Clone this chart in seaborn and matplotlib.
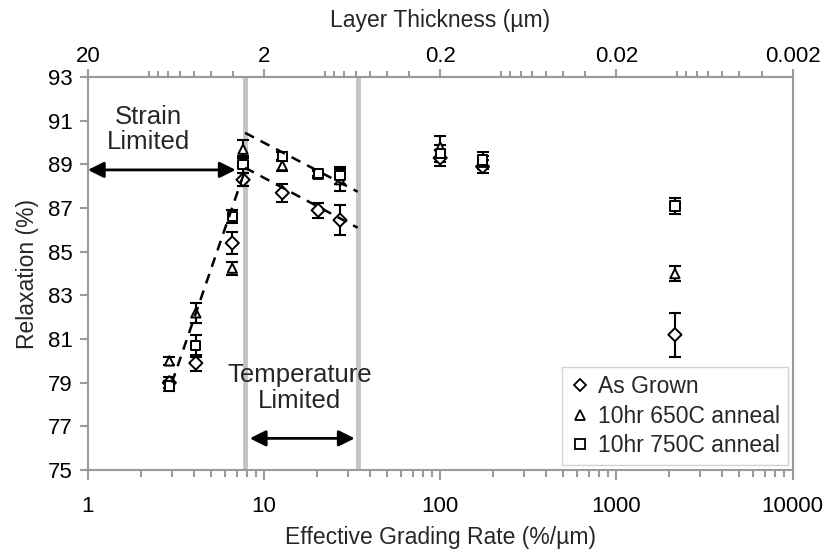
import numpy as np
import pandas as pd
import matplotlib
matplotlib.use("Agg")
import matplotlib.pyplot as plt
from matplotlib.lines import Line2D
from matplotlib.ticker import LogLocator, FixedLocator, NullFormatter, FixedFormatter
import seaborn as sns

# Effective grading rate (%/um) for each sample
grading_rate = [2.9, 4.1, 6.6, 7.6, 12.7, 20.3, 27.0, 100.0, 174.0, 2150.0]

# Relaxation (%) and error for each condition
as_grown = [79.0, 79.9, 85.4, 88.3, 87.7, 86.9, 86.45, 89.3, 88.9, 81.2]
as_grown_err = [0.25, 0.35, 0.5, 0.3, 0.4, 0.35, 0.7, 0.35, 0.3, 1.0]
anneal_650 = [80.0, 82.2, 84.25, 89.7, 88.95, 88.55, 88.3, 89.8, 89.1, 84.0]
anneal_650_err = [0.2, 0.45, 0.3, 0.4, 0.25, 0.15, 0.5, 0.5, 0.3, 0.35]
anneal_750 = [78.85, 80.7, 86.6, 89.0, 89.35, 88.6, 88.5, 89.5, 89.2, 87.1]
anneal_750_err = [0.25, 0.5, 0.3, 0.4, 0.2, 0.15, 0.4, 0.4, 0.35, 0.35]

series_names = ["As Grown", "10hr 650C anneal", "10hr 750C anneal"]
series_markers = ["D", "^", "s"]

# Trend guides (rate, relaxation) end points
strain_trend_x = [3.0, 7.7]
strain_trend_y = [79.0, 88.6]
upper_trend_x = [7.8, 34.0]
upper_trend_y = [90.45, 87.75]
lower_trend_x = [7.8, 34.0]
lower_trend_y = [88.85, 86.1]

# Regime boundaries (rate)
regime_bounds = [7.8, 34.0]

# Axis ticks
y_ticks = [75, 77, 79, 81, 83, 85, 87, 89, 91, 93]
x_ticks = [1, 10, 100, 1000, 10000]
top_ticks = [20, 2, 0.2, 0.02, 0.002]
top_tick_labels = ["20", "2", "0.2", "0.02", "0.002"]

sns.set_theme(style="white")
plt.rcParams["font.family"] = ["Liberation Sans", "DejaVu Sans"]

df = pd.DataFrame({
    "rate": grading_rate * 3,
    "relax": as_grown + anneal_650 + anneal_750,
    "err": as_grown_err + anneal_650_err + anneal_750_err,
    "series": sum([[n] * len(grading_rate) for n in series_names], []),
})

fig = plt.figure(figsize=(8.29, 5.51), dpi=100)
ax = fig.add_axes([0.106, 0.147, 0.850, 0.713])
ax.set_xscale("log")
ax.set_xlim(1, 10000)
ax.set_ylim(75, 93)

spine_color = "#9a9a9a"
for s in ax.spines.values():
    s.set_color(spine_color)
    s.set_linewidth(1.5)

# regime boundary lines
for b in regime_bounds:
    ax.axvline(b, color="#c4c4c4", lw=3.5, zorder=1)

# error bars
for name in series_names:
    sub = df[df["series"] == name]
    ax.errorbar(sub["rate"], sub["relax"], yerr=sub["err"], fmt="none",
                ecolor="black", elinewidth=1.5, capsize=4, capthick=1.5, zorder=3)

# markers
sns.scatterplot(data=df, x="rate", y="relax", style="series",
                markers=dict(zip(series_names, series_markers)),
                style_order=series_names, color="white", edgecolor="black",
                linewidth=1.4, s=45, legend=False, ax=ax, zorder=4)

# trend guides
for xs, ys in [(strain_trend_x, strain_trend_y), (upper_trend_x, upper_trend_y),
               (lower_trend_x, lower_trend_y)]:
    sns.lineplot(x=xs, y=ys, ax=ax, color="black", lw=1.8, linestyle=(0, (4, 3)),
                 zorder=5, estimator=None, sort=False)

# annotations
ax.annotate("", xy=(1.0, 88.75), xytext=(6.9, 88.75),
            arrowprops=dict(arrowstyle="<|-|>", color="black", lw=2,
                            mutation_scale=24, shrinkA=0, shrinkB=0), zorder=6)
ax.text(2.2, 90.6, "Strain\nLimited", ha="center", va="center", fontsize=18.5,
        linespacing=1.1)
ax.annotate("", xy=(8.3, 76.45), xytext=(32.7, 76.45),
            arrowprops=dict(arrowstyle="<|-|>", color="black", lw=2,
                            mutation_scale=24, shrinkA=0, shrinkB=0), zorder=6)
ax.text(16.0, 78.75, "Temperature\nLimited", ha="center", va="center", fontsize=18.5,
        linespacing=1.1)

# axes, ticks
ax.set_yticks(y_ticks)
ax.set_xticks(x_ticks)
ax.set_xticklabels([str(t) for t in x_ticks])
ax.xaxis.set_minor_locator(LogLocator(base=10, subs=np.arange(2, 10)))
ax.xaxis.set_minor_formatter(NullFormatter())
ax.tick_params(axis="both", which="both", direction="out", color=spine_color,
               width=1.5, labelsize=16, labelcolor="black")
ax.tick_params(axis="x", which="major", length=7, bottom=True, pad=12)
ax.tick_params(axis="x", which="minor", length=5, bottom=True)
ax.tick_params(axis="y", which="major", length=6, left=True, pad=5)
ax.set_xlabel("Effective Grading Rate (%/µm)", fontsize=16.5, labelpad=6)
ax.set_ylabel("Relaxation (%)", fontsize=16.5, labelpad=6)

top = ax.secondary_xaxis("top", functions=(lambda x: 20.0 / x, lambda x: 20.0 / x))
top.xaxis.set_major_locator(FixedLocator(top_ticks))
top.xaxis.set_major_formatter(FixedFormatter(top_tick_labels))
top.xaxis.set_minor_locator(LogLocator(base=10, subs=np.arange(2, 10)))
top.xaxis.set_minor_formatter(NullFormatter())
top.tick_params(axis="x", which="both", direction="out", color=spine_color,
                width=1.5, labelsize=16, labelcolor="black")
top.tick_params(axis="x", which="major", length=6, pad=1)
top.tick_params(axis="x", which="minor", length=4)
top.spines["top"].set_color(spine_color)
top.spines["top"].set_linewidth(1.5)
top.set_xlabel("Layer Thickness (µm)", fontsize=16.5, labelpad=14)

# legend
handles = [Line2D([], [], linestyle="none", marker=m, markerfacecolor="white",
                  markeredgecolor="black", markeredgewidth=1.3,
                  markersize=7 if m != "D" else 6)
           for m in series_markers]
leg = ax.legend(handles, series_names, loc="lower right", fontsize=16.5,
                frameon=True, fancybox=False, edgecolor="#c8c8c8",
                handlelength=0.8, handletextpad=0.4, borderpad=0.35,
                labelspacing=0.3, borderaxespad=0.2)
leg.get_frame().set_linewidth(1.0)

fig.savefig("out.png", dpi=100, facecolor="white")
